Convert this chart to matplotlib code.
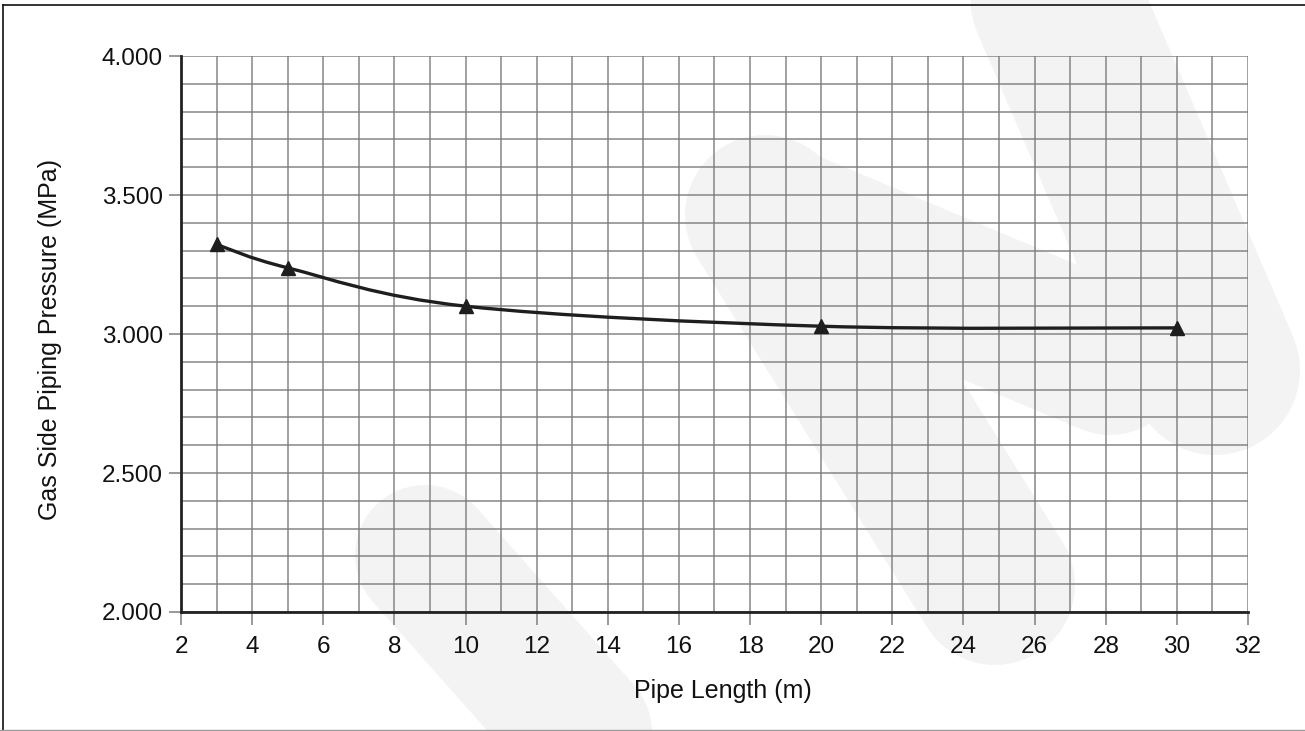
import numpy as np
import matplotlib
matplotlib.use("Agg")
import matplotlib.pyplot as plt
from matplotlib.path import Path
from matplotlib.patches import PathPatch
from matplotlib.lines import Line2D

plt.rcParams['font.family'] = ['Liberation Sans', 'DejaVu Sans']

# data
pipe_length = [3, 5, 10, 20, 30]
pressure = [3.322, 3.238, 3.100, 3.028, 3.022]

x_ticks = [2, 4, 6, 8, 10, 12, 14, 16, 18, 20, 22, 24, 26, 28, 30, 32]
y_ticks = [2.0, 2.5, 3.0, 3.5, 4.0]

W, H = 1305, 731
fig = plt.figure(figsize=(W / 100, H / 100), dpi=100)
fig.patch.set_facecolor('white')

# faint watermark in the background (pixel coords, origin top-left)
wm_color = '#f3f3f3'
strokes = [
    ((765, 215), (995, 585), 160),
    ((765, 215), (1110, 360), 150),
    ((1030, -60), (1215, 370), 170),
    ((425, 555), (660, 820), 140),
    ((30, 790), (80, 780), 200),
]
for (x0, y0), (x1, y1), w in strokes:
    fig.add_artist(Line2D([x0 / W, x1 / W], [1 - y0 / H, 1 - y1 / H],
                          transform=fig.transFigure, color=wm_color,
                          lw=w * 0.72, solid_capstyle='round', zorder=0))

# picture border
fig.add_artist(Line2D([2.5 / W, 2.5 / W], [0, 1 - 4.5 / H], transform=fig.transFigure,
                      color='#111111', lw=1.2, zorder=1))
fig.add_artist(Line2D([2.5 / W, 1], [1 - 4.5 / H, 1 - 4.5 / H], transform=fig.transFigure,
                      color='#111111', lw=1.2, zorder=1))
fig.add_artist(Line2D([0, 1], [1 - 729.5 / H, 1 - 729.5 / H], transform=fig.transFigure,
                      color='#9a9a9a', lw=1.0, zorder=1))

ax = fig.add_axes([181 / W, 1 - 612 / H, (1248 - 181) / W, (612 - 56) / H])
ax.patch.set_alpha(0)
ax.set_xlim(2, 32)
ax.set_ylim(2.0, 4.0)

ax.set_xticks(x_ticks)
ax.set_yticks(y_ticks)
ax.set_yticklabels([f'{v:.3f}' for v in y_ticks])
ax.set_xticks(np.arange(2, 33, 1), minor=True)
ax.set_yticks(np.arange(2.0, 4.01, 0.1), minor=True)
ax.tick_params(which='minor', length=0)
ax.tick_params(which='major', length=9, width=1.2, color='#888888',
               labelsize=17.5, labelcolor='#111111')
ax.tick_params(axis='x', pad=8)
ax.tick_params(axis='y', pad=4)
ax.grid(which='both', color='#7a7a7a', lw=1.1, alpha=0.9)
ax.set_axisbelow(True)

for s in ['top', 'right']:
    ax.spines[s].set_visible(False)
for s in ['left', 'bottom']:
    ax.spines[s].set_color('#222222')
    ax.spines[s].set_linewidth(2.0)

# smoothed line through the points (Catmull-Rom style Bezier)
pts = np.column_stack([pipe_length, pressure])
verts = [tuple(pts[0])]
codes = [Path.MOVETO]
n = len(pts)
for i in range(n - 1):
    p0 = pts[i - 1] if i > 0 else pts[i]
    p1 = pts[i]
    p2 = pts[i + 1]
    p3 = pts[i + 2] if i + 2 < n else pts[i + 1]
    c1 = p1 + (p2 - p0) / 6
    c2 = p2 - (p3 - p1) / 6
    verts += [tuple(c1), tuple(c2), tuple(p2)]
    codes += [Path.CURVE4] * 3
ax.add_patch(PathPatch(Path(verts, codes), fill=False, edgecolor='#1e1e1e',
                       lw=2.4, capstyle='round', joinstyle='round', zorder=3))
ax.plot(pipe_length, pressure, linestyle='none', marker='^', markersize=10,
        color='#1e1e1e', zorder=4)

ax.set_xlabel('Pipe Length (m)', fontsize=18, color='#111111')
ax.set_ylabel('Gas Side Piping Pressure (MPa)', fontsize=18, color='#111111')
ax.xaxis.set_label_coords(((632 + 813) / 2 - 181) / (1248 - 181), -(691 - 612) / (612 - 56))
ax.xaxis.label.set_va('center')
ax.yaxis.set_label_coords(-(181 - 50) / (1248 - 181), (612 - 340) / (612 - 56))
ax.yaxis.label.set_va('center')

fig.savefig('out.png', dpi=100)
